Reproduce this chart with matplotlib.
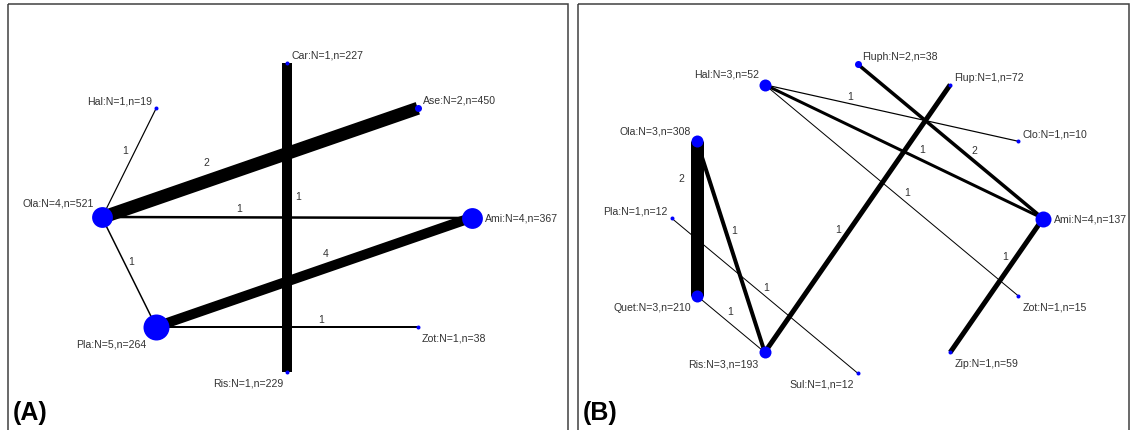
import numpy as np
import matplotlib.pyplot as plt
from matplotlib.patches import Rectangle

plt.rcParams["font.family"] = ["Liberation Sans", "DejaVu Sans"]

# Panel A: treatments (alphabetical), number of studies N, participants n
a_names = ["Ami", "Ase", "Car", "Hal", "Ola", "Pla", "Ris", "Zot"]
a_studies = [4, 2, 1, 1, 4, 5, 1, 1]
a_patients = [367, 450, 227, 19, 521, 264, 229, 38]
# direct comparisons, number of trials and edge weight
a_pairs = [("Ola", "Hal"), ("Ola", "Ase"), ("Ola", "Ami"), ("Car", "Ris"),
           ("Pla", "Ami"), ("Ola", "Pla"), ("Pla", "Zot")]
a_trials = [1, 2, 1, 1, 4, 1, 1]
a_weights = [1.2, 13, 2.5, 10, 10, 1.5, 2]

# Panel B
b_names = ["Ami", "Clo", "Flup", "Fluph", "Hal", "Ola", "Pla", "Quet",
           "Ris", "Sul", "Zip", "Zot"]
b_studies = [4, 1, 1, 2, 3, 3, 1, 3, 3, 1, 1, 1]
b_patients = [137, 10, 72, 38, 52, 308, 12, 210, 193, 12, 59, 15]
b_pairs = [("Hal", "Clo"), ("Hal", "Ami"), ("Fluph", "Ami"), ("Hal", "Zot"),
           ("Ola", "Quet"), ("Ola", "Ris"), ("Ris", "Flup"), ("Pla", "Sul"),
           ("Quet", "Ris"), ("Ami", "Zip")]
b_trials = [1, 1, 2, 1, 2, 1, 1, 1, 1, 1]
b_weights = [1.2, 3, 3.5, 1, 13, 4, 5, 1, 1, 5]

# where the trial counts sit along each edge (fraction, offset in px)
a_label_t = [0.58, 0.35, 0.37, 0.43, 0.55, 0.43, 0.63]
a_label_off = [9, 18, 9.5, 11, 14.5, 7, 8]
b_label_t = [0.33, 0.55, 0.60, 0.54, 0.24, 0.43, 0.44, 0.48, 0.40, 0.32]
b_label_off = [7.5, 10, 9, 9, -15.5, 8, 10, 7.5, 9.5, 9.5]

PX = 0.72  # points per pixel at dpi 100
TXT = "#333333"


def node_diameter(n_studies, k):
    if n_studies == 1:
        return 4
    if n_studies == 2:
        return 7
    return k * n_studies


def draw_network(ax, names, studies, patients, pairs, trials, weights,
                 lab_t, lab_off, cx, cy, rx, ry, k):
    m = len(names)
    ang = 2 * np.pi * np.arange(m) / m
    xs = cx + rx * np.cos(ang)
    ys = cy - ry * np.sin(ang)
    pos = {nm: (x, y) for nm, x, y in zip(names, xs, ys)}

    # edges
    for (a, b), t, w, lt, lo in zip(pairs, trials, weights, lab_t, lab_off):
        x0, y0 = pos[a]
        x1, y1 = pos[b]
        ax.plot([x0, x1], [y0, y1], color="black", lw=w * PX,
                solid_capstyle="butt", zorder=1)
        d = np.hypot(x1 - x0, y1 - y0)
        nx, ny = (y1 - y0) / d, -(x1 - x0) / d
        if abs(ny) < 1e-6:
            nx, ny = 1.0, 0.0
        elif ny > 0:
            nx, ny = -nx, -ny
        off = lo
        lx = x0 + lt * (x1 - x0) + off * nx
        ly = y0 + lt * (y1 - y0) + off * ny
        ax.text(lx, ly, str(t), fontsize=7.5, color=TXT,
                ha="center", va="center", zorder=3)

    # nodes and labels
    for nm, N, n, a in zip(names, studies, patients, ang):
        x, y = pos[nm]
        dia = node_diameter(N, k)
        ax.plot(x, y, "o", color="#0000ff", ms=dia * PX, mec="none", zorder=2)
        r = dia / 2
        deg = np.degrees(a) % 360
        left = deg <= 90 or deg > 270
        sign = 1 if left else -1
        if deg == 0:
            dx, dy = r + 3, 0
        elif deg <= 180:
            dx, dy = 0.5 * r + 3, -max(r + 5, 8)
        else:
            dx, dy = 0.5 * r + 3, max(r + 4, 11)
        ax.text(x + sign * dx, y + dy, f"{nm}:N={N},n={n}", fontsize=7.6,
                color=TXT, ha="left" if left else "right", va="center",
                zorder=3)


fig = plt.figure(figsize=(11.32, 4.31), dpi=100)
ax = fig.add_axes([0, 0, 1, 1])
ax.set_xlim(0, 1132)
ax.set_ylim(431, 0)
ax.axis("off")

# panel frames
ax.add_patch(Rectangle((8, 5), 560, 440, fill=False, ec="#404040", lw=1.1))
ax.add_patch(Rectangle((578, 5), 551, 440, fill=False, ec="#404040", lw=1.1))

draw_network(ax, a_names, a_studies, a_patients, a_pairs, a_trials,
             a_weights, a_label_t, a_label_off,
             cx=287, cy=218.5, rx=185, ry=154.5, k=5.2)
draw_network(ax, b_names, b_studies, b_patients, b_pairs, b_trials,
             b_weights, b_label_t, b_label_off,
             cx=857.5, cy=219.5, rx=185.5, ry=154.5, k=4)

ax.text(13, 413, "(A)", fontsize=18, fontweight="bold", ha="left", va="center")
ax.text(583, 413, "(B)", fontsize=18, fontweight="bold", ha="left", va="center")

fig.savefig("out.png", dpi=100)
